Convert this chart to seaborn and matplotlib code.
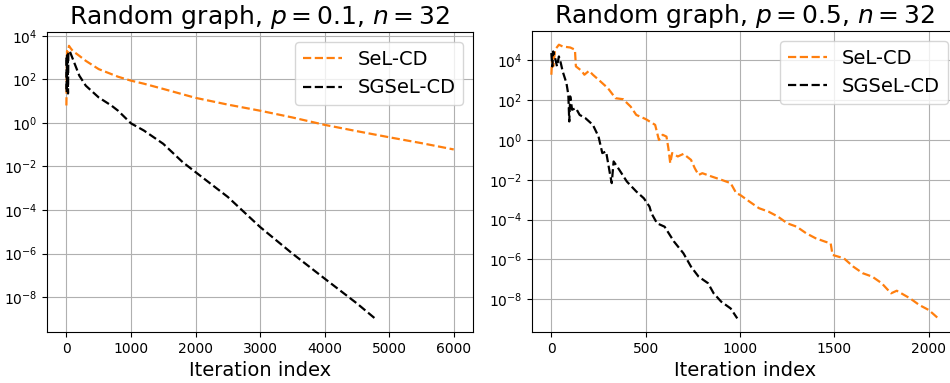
import numpy as np
import pandas as pd
import seaborn as sns
import matplotlib
matplotlib.use("Agg")
import matplotlib.pyplot as plt

# --- left panel: p = 0.1 (log10 of the error) ---
left_sel_iter = [0, 10, 20, 40, 60, 100, 200, 300, 500, 800, 1000, 1200, 1500,
                 2000, 2500, 3000, 3500, 4000, 4500, 5000, 5500, 6000]
left_sel_log = [0.8, 3.3, 3.0, 3.54, 3.45, 3.3, 3.08, 2.85, 2.47, 2.12, 1.94, 1.8,
                1.56, 1.15, 0.84, 0.56, 0.25, -0.09, -0.38, -0.66, -0.93, -1.22]

left_sgsel_iter = [0, 5, 10, 15, 20, 25, 30, 50, 100, 200, 300, 500, 700, 800,
                   1000, 1200, 1500, 1800, 2000, 2500, 3000, 3500, 4000, 4500, 4780]
left_sgsel_log = [3.0, 1.4, 3.1, 1.6, 3.2, 1.35, 3.2, 3.31, 2.93, 2.17, 1.71, 1.17,
                  0.79, 0.56, -0.02, -0.35, -0.96, -1.8, -2.26, -3.4, -4.78, -6.0,
                  -7.15, -8.29, -8.98]

# --- right panel: p = 0.5 ---
right_sel_iter = [0, 5, 10, 20, 40, 60, 100, 125, 130, 160, 175, 200, 220, 250, 300,
                  340, 380, 420, 450, 500, 550, 570, 590, 610, 620, 630, 640, 670,
                  700, 740, 760, 780, 800, 850, 900, 950, 980, 1000, 1050, 1100,
                  1150, 1200, 1250, 1300, 1350, 1400, 1450, 1480, 1490, 1550, 1600,
                  1650, 1700, 1750, 1800, 1830, 1900, 1950, 2000, 2050]
right_sel_log = [3.28, 4.2, 3.7, 4.54, 4.79, 4.7, 4.65, 4.54, 3.7, 3.48, 3.28, 3.48,
                 3.28, 3.03, 2.6, 2.1, 2.05, 1.68, 1.26, 1.05, 0.76, 0.0, 0.26, 0.17,
                 -0.41, -1.17, -0.66, -0.83, -0.7, -1.0, -1.42, -1.76, -1.67, -1.84,
                 -2.0, -2.17, -2.68, -2.76, -3.1, -3.43, -3.6, -3.85, -4.19, -4.36,
                 -4.69, -4.94, -5.11, -5.2, -5.78, -5.95, -6.37, -6.7, -6.87, -7.2,
                 -7.71, -7.58, -7.96, -8.3, -8.55, -8.97]

right_sgsel_iter = [0, 5, 10, 20, 30, 40, 50, 60, 80, 90, 95, 100, 110, 130, 150,
                    180, 220, 250, 270, 290, 310, 320, 330, 360, 400, 450, 490, 520,
                    530, 560, 600, 650, 700, 740, 780, 830, 860, 900, 950, 985]
right_sgsel_log = [4.37, 3.7, 4.45, 4.12, 3.7, 4.2, 3.87, 3.45, 2.86, 2.27, 0.93,
                   2.19, 1.52, 1.6, 1.26, 1.1, 0.76, 0.17, -0.66, -0.58, -1.67, -2.17,
                   -1.08, -1.5, -2.09, -2.59, -2.93, -3.35, -3.68, -4.19, -4.36, -5.11,
                   -5.7, -6.37, -6.87, -7.2, -7.71, -8.13, -8.47, -8.97]

titles = [r"Random graph, $p=0.1$, $n=32$", r"Random graph, $p=0.5$, $n=32$"]

fig = plt.figure(figsize=(9.5, 3.83), dpi=100)
ax1 = fig.add_axes([0.0495, 0.133, 0.4485, 0.783])
ax2 = fig.add_axes([0.56, 0.133, 0.448, 0.786])

panels = [
    (ax1, left_sel_iter, left_sel_log, left_sgsel_iter, left_sgsel_log),
    (ax2, right_sel_iter, right_sel_log, right_sgsel_iter, right_sgsel_log),
]

for (ax, si, sl, gi, gl), title in zip(panels, titles):
    sns.lineplot(x=si, y=10.0 ** np.array(sl), ax=ax, color="#ff7f0e",
                 linestyle="--", linewidth=1.6, sort=False, label="SeL-CD")
    sns.lineplot(x=gi, y=10.0 ** np.array(gl), ax=ax, color="black",
                 linestyle="--", linewidth=1.6, sort=False, label="SGSeL-CD")
    ax.set_yscale("log")
    ax.grid(True, color="#b0b0b0", linewidth=0.8)
    ax.set_title(title, fontsize=18)
    ax.set_xlabel("Iteration index", fontsize=14)
    ax.set_ylabel("")
    ax.tick_params(labelsize=10)
    ax.legend(loc="upper right", fontsize=14)

fig.savefig("out.png", dpi=100)
